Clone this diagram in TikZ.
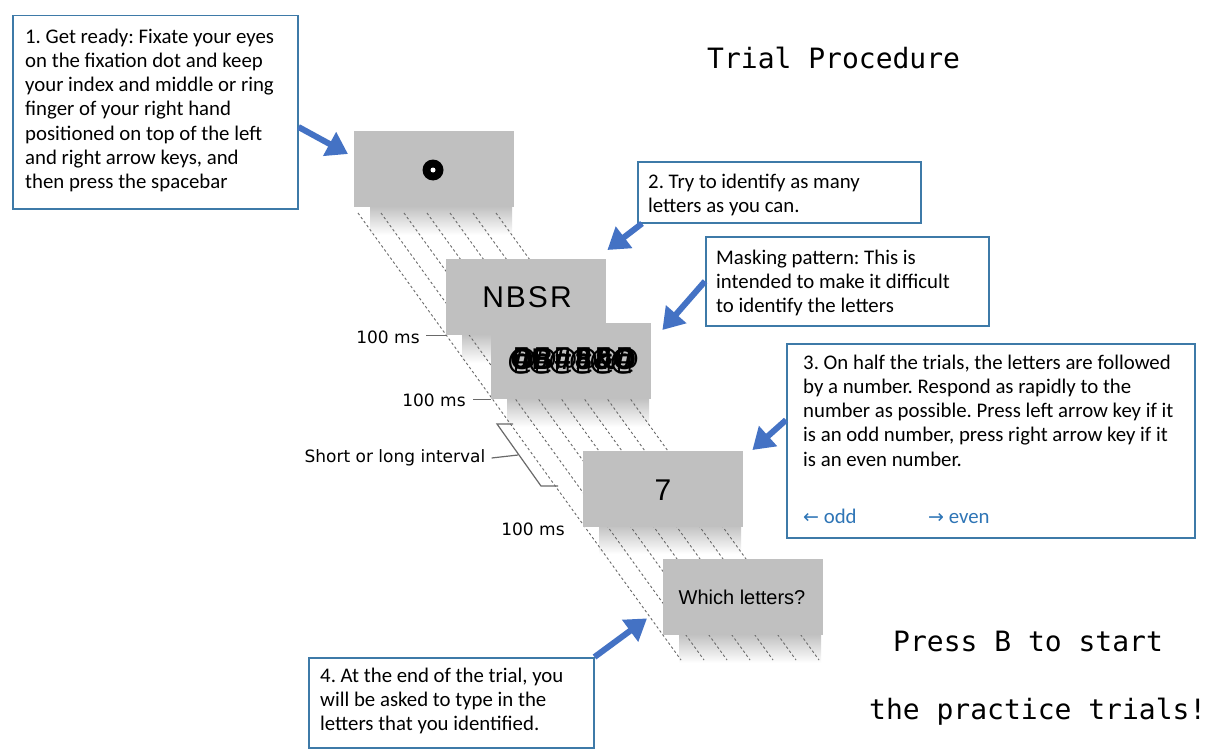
\documentclass[tikz,border=0pt]{standalone}
\usepackage{fontspec}
\setmainfont{Carlito}
\newfontfamily\dv{DejaVu Sans}
\newfontfamily\dvmono{DejaVu Sans Mono}
\newfontfamily\lib{Liberation Sans}
\usetikzlibrary{arrows.meta,calc}
\definecolor{boxblue}{RGB}{62,122,168}
\definecolor{arrowblue}{RGB}{68,114,196}
\definecolor{keyblue}{RGB}{46,117,182}
\definecolor{screengray}{RGB}{192,192,192}
\definecolor{linegray}{RGB}{105,105,105}
\frenchspacing
\begin{document}
\frenchspacing
\begin{tikzpicture}[x=1pt,y=-1pt,
  infobox/.style={draw=boxblue, line width=1.5pt, fill=white, inner sep=0, anchor=north west},
  boxtext/.style={inner sep=0, anchor=north west, align=left, font=\frenchspacing\fontsize{20.8}{24.2}\selectfont},
  screen/.style={fill=screengray, draw=none, minimum width=160pt, minimum height=76pt, inner sep=0, anchor=north west},
  callout/.style={draw=arrowblue, line width=6pt, -{Triangle[length=21pt,width=26pt]}},
  dashline/.style={draw=linegray, line width=0.9pt, dash pattern=on 2.5pt off 2.5pt},
  tickline/.style={draw=linegray, line width=1.2pt},
  lbl/.style={font=\dv\fontsize{17}{20}\selectfont, inner sep=0},
  mono/.style={font=\dvmono\fontsize{28}{32}\selectfont, inner sep=0, anchor=base west},
  shadowbox/.style={top color=black!24, bottom color=white},
  maskglyph/.style={font=\lib\bfseries\fontsize{30}{34}\selectfont, inner sep=0}]

\path[use as bounding box, fill=white] (0,0) rectangle (1209,749);

% shadows under screens
\foreach \L/\B in {354/207, 446/335, 491/399, 583/526, 663/635}{
  \shade[shadowbox] (\L+16,\B) rectangle (\L+158,\B+28);
}

% timeline dashed lines
\foreach \k in {0,...,6}{
  \draw[dashline] (358+23*\k,213) -- (681+23*\k,660);
}

% screens
\node[screen] (s1) at (354,131) {};
\node[circle, fill=black, minimum size=21pt, inner sep=0] (fix) at (433,170) {};
\node[circle, fill=white, minimum size=5pt, inner sep=0] (fixc) at (433,170) {};

\node[screen] (s2) at (446,259) {};
\node[font=\lib\fontsize{30}{34}\selectfont, inner sep=0] (nbsr) at (527,297) {N\kern2pt B\kern2pt S\kern2pt R};

\node[screen] (s3) at (491,323) {};
\foreach \i/\c in {0/O,1/B,2/\#,3/8,4/\&,5/O}{
  \node[maskglyph] (m\i) at (522+20.5*\i,361)
    {\makebox[0pt]{\c}\makebox[0pt]{{\dv\bfseries\fontsize{34}{38}\selectfont ▯}}\makebox[0pt]{\#}\makebox[0pt]{@}};
}

\node[screen] (s4) at (583,451) {};
\node[font=\lib\fontsize{30}{34}\selectfont, inner sep=0] (seven) at (663,490) {7};

\node[screen] (s5) at (663,559) {};
\node[font=\lib\fontsize{20}{24}\selectfont, inner sep=0] (which) at (742,597) {Which letters?};

% timing labels
\node[lbl] (ms1) at (388,337) {100 ms};
\draw[tickline] (s2.south west) -- ++(-20,0);
\node[lbl] (ms2) at (434,400) {100 ms};
\draw[tickline] (s3.south west) -- ++(-18,0);
\node[lbl] (ms3) at (533,529) {100 ms};
\node[lbl] (sli) at (395,458) {Short or long interval};
\draw[tickline] (513,424) -- (497,424) -- (541,486) -- (558,486);
\draw[tickline] ([xshift=6pt]sli.east) -- (518,455);

% info boxes
\node[infobox, minimum width=285pt, minimum height=193pt] (b1) at (12,15) {};
\node[boxtext] (t1) at (25,26.06) {\strut 1. Get ready: Fixate your eyes\\on the fixation dot and keep\\your index and middle or ring\\finger of your right hand\\positioned on top of the left\\and right arrow keys, and\\then press the spacebar};

\node[infobox, minimum width=283pt, minimum height=61pt] (b2) at (637,161) {};
\node[boxtext] (t2) at (648,171.06) {\strut 2. Try to identify as many\\letters as you can.};

\node[infobox, minimum width=283pt, minimum height=89pt] (bm) at (705,236) {};
\node[boxtext] (tm) at (716,247.06) {\strut Masking pattern: This is\\intended to make it difficult\\to identify the letters};

\node[infobox, minimum width=408pt, minimum height=194pt] (b3) at (786,343) {};
\node[boxtext] (t3) at (803,352.06) {\strut 3. On half the trials, the letters are followed\\by a number. Respond as rapidly to the\\number as possible. Press left arrow key if it\\is an odd number, press right arrow key if it\\is an even number.};
\node[inner sep=0, anchor=base west, text=keyblue, font=\fontsize{20.8}{24.2}\selectfont] (odd) at (803,523) {{\dv\fontsize{19}{22}\selectfont ←} odd};
\node[inner sep=0, anchor=base west, text=keyblue, font=\fontsize{20.8}{24.2}\selectfont] (even) at (928,523) {{\dv\fontsize{19}{22}\selectfont →} even};

\node[infobox, minimum width=285pt, minimum height=90pt] (b4) at (308,657) {};
\node[boxtext] (t4) at (320,665.06) {\strut 4. At the end of the trial, you\\will be asked to type in the\\letters that you identified.};

% callout arrows
\draw[callout] ($(b1.north east)+(0,112)$) -- ($(s1.north west)+(-6,23)$);
\draw[callout] ($(b2.south west)+(5,0)$) -- ($(s2.north east)+(1,-9)$);
\draw[callout] (bm.west) -- ($(s3.north east)+(11,7)$);
\draw[callout] ($(b3.north west)+(0,77)$) -- ($(s4.north east)+(9,-1)$);
\draw[callout] (b4.north east) -- ($(s5.south west)+(-16,-17)$);

% titles
\node[mono] (title) at (707,69) {Trial Procedure};
\node[mono] (press) at (893,651) {Press B to start};
\node[mono] (practice) at (869,719) {the practice trials!};
\end{tikzpicture}
\end{document}
